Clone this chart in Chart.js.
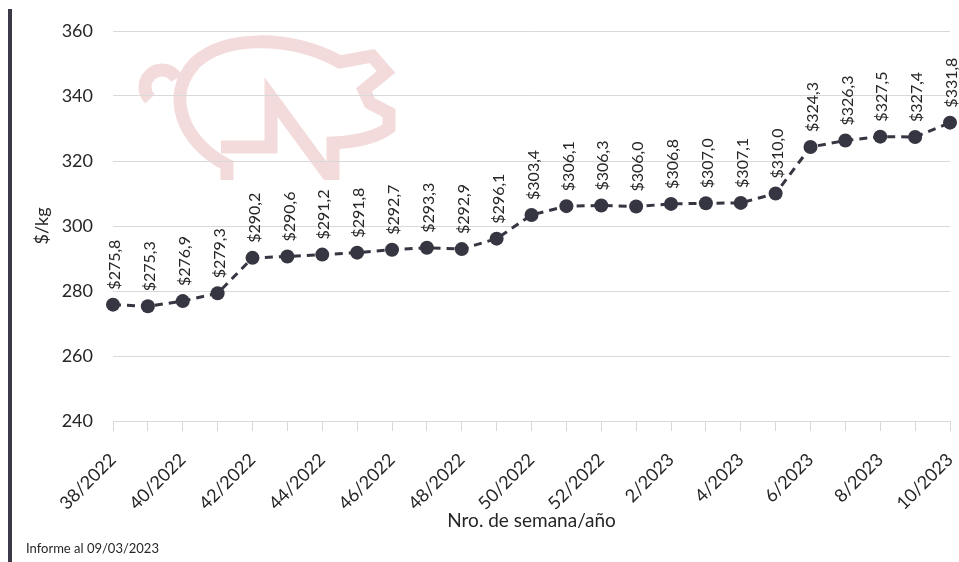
<!DOCTYPE html>
<html>
<head>
<meta charset="utf-8">
<script src="https://cdn.jsdelivr.net/npm/chart.js@4/dist/chart.umd.min.js"></script>
<style>
html,body{margin:0;padding:0;background:#fff;}
#wrap{position:relative;width:959px;height:562px;}
canvas{display:block;}
</style>
</head>
<body>
<div id="wrap"><canvas id="c" width="959" height="562"></canvas></div>
<script>
const weeks = ['38/2022','39/2022','40/2022','41/2022','42/2022','43/2022','44/2022','45/2022','46/2022','47/2022','48/2022','49/2022','50/2022','51/2022','52/2022','1/2023','2/2023','3/2023','4/2023','5/2023','6/2023','7/2023','8/2023','9/2023','10/2023'];
const prices = [275.8,275.3,276.9,279.3,290.2,290.6,291.2,291.8,292.7,293.3,292.9,296.1,303.4,306.1,306.3,306.0,306.8,307.0,307.1,310.0,324.3,326.3,327.5,327.4,331.8];
const yTicks = [240,260,280,300,320,340,360];
const yTitle = '$/kg';
const xTitle = 'Nro. de semana/año';
const footer = 'Informe al 09/03/2023';

const FONT = 'Lato';
const TXT = '#262626';
const DARK = '#363642';

const fmt = v => '$' + v.toFixed(1).replace('.', ',');

const decoPlugin = {
  id: 'deco',
  beforeDraw(chart) {
    const ctx = chart.ctx;
    ctx.save();
    ctx.fillStyle = '#fff';
    ctx.fillRect(0, 0, chart.width, chart.height);
    // left dark bar
    ctx.fillStyle = '#3a3a48';
    ctx.fillRect(8, 9, 4, chart.height - 9);
    // pig watermark
    ctx.beginPath();
    ctx.rect(0, 0, chart.width, 180);
    ctx.clip();
    ctx.strokeStyle = '#f3dbdb';
    ctx.lineWidth = 13;
    ctx.lineJoin = 'miter';
    ctx.lineCap = 'butt';
    ctx.beginPath();
    ctx.arc(162, 87, 17, 135 * Math.PI / 180, 330 * Math.PI / 180);
    ctx.stroke();
    ctx.beginPath();
    ctx.moveTo(227, 190);
    ctx.lineTo(227, 165);
    ctx.bezierCurveTo(182, 142, 165, 95, 195, 63);
    ctx.bezierCurveTo(225, 35, 290, 35, 340, 62);
    ctx.lineTo(372, 56);
    ctx.lineTo(386, 72);
    ctx.lineTo(364, 90);
    ctx.lineTo(370, 103);
    ctx.lineTo(389, 113);
    ctx.lineTo(389, 128);
    ctx.bezierCurveTo(375, 138, 355, 142, 333, 143);
    ctx.lineTo(333, 190);
    ctx.stroke();
    ctx.beginPath();
    ctx.moveTo(221, 147);
    ctx.lineTo(271, 147);
    ctx.lineTo(271, 97);
    ctx.lineTo(332, 180);
    ctx.stroke();
    ctx.restore();
  },
  afterDraw(chart) {
    const ctx = chart.ctx;
    ctx.save();
    // data labels
    const meta = chart.getDatasetMeta(0);
    ctx.fillStyle = TXT;
    ctx.font = '16px ' + FONT;
    ctx.textAlign = 'left';
    ctx.textBaseline = 'middle';
    meta.data.forEach((pt, i) => {
      ctx.save();
      ctx.translate(pt.x + 2, pt.y - 15);
      ctx.rotate(-Math.PI / 2);
      ctx.fillText(fmt(prices[i]), 0, 0);
      ctx.restore();
    });
    // footer
    ctx.font = '13px ' + FONT;
    ctx.textBaseline = 'alphabetic';
    ctx.fillText(footer, 26, 553);
    ctx.restore();
  }
};

new Chart(document.getElementById('c'), {
  type: 'line',
  data: {
    labels: weeks,
    datasets: [{
      data: prices,
      borderColor: DARK,
      backgroundColor: DARK,
      borderWidth: 3,
      borderDash: [8, 6],
      pointRadius: 7,
      pointHoverRadius: 7,
      pointBackgroundColor: DARK,
      pointBorderColor: DARK,
      pointBorderWidth: 0,
      tension: 0,
      fill: false
    }]
  },
  options: {
    responsive: false,
    devicePixelRatio: 1,
    animation: false,
    events: [],
    layout: { padding: { left: 0, right: 9, top: 31, bottom: 30 } },
    plugins: { legend: { display: false }, tooltip: { enabled: false } },
    scales: {
      x: {
        type: 'category',
        offset: false,
        grid: { display: true, drawOnChartArea: false, drawTicks: true, tickLength: 10, color: '#d9d9d9', lineWidth: 1 },
        border: { display: true, color: '#d9d9d9', width: 1 },
        ticks: {
          autoSkip: false,
          maxRotation: 45,
          minRotation: 45,
          padding: 18,
          color: TXT,
          font: { family: FONT, size: 18 },
          callback: function (v, i) { return i % 2 === 0 ? weeks[i] : ''; }
        },
        title: { display: true, text: xTitle, color: TXT, font: { family: FONT, size: 19 }, padding: { top: 0, bottom: 0 } },
        afterFit(scale) { scale.height = 111; scale.paddingLeft = 0; scale.paddingRight = 0; }
      },
      y: {
        min: 240,
        max: 360,
        afterBuildTicks(scale) { scale.ticks = yTicks.map(v => ({ value: v })); },
        grid: { color: '#d9d9d9', lineWidth: 1, drawTicks: false },
        border: { display: false },
        ticks: { padding: 20, color: TXT, font: { family: FONT, size: 18 } },
        title: { display: true, text: yTitle, color: TXT, font: { family: FONT, size: 18 }, padding: { top: 31, bottom: 0 } },
        afterFit(scale) { scale.width = 113; }
      }
    }
  },
  plugins: [decoPlugin]
});
</script>
</body>
</html>
